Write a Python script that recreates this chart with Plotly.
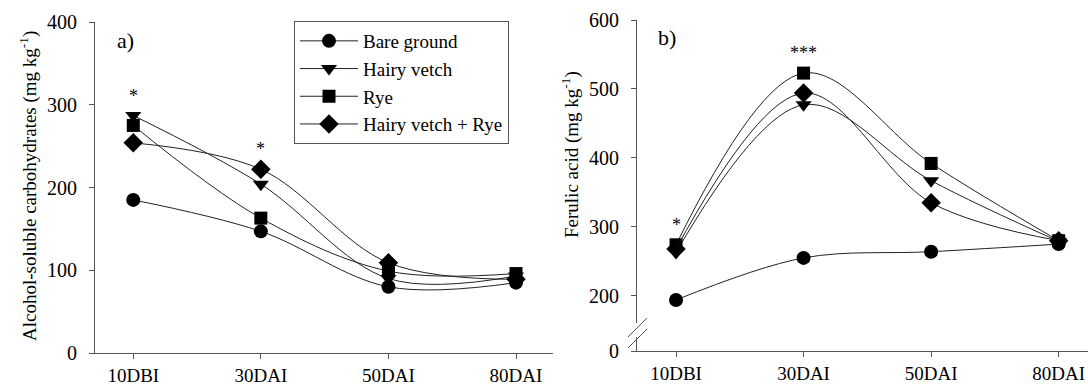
import plotly.graph_objects as go

categories = ["10DBI", "30DAI", "50DAI", "80DAI"]
series_names = ["Bare ground", "Hairy vetch", "Rye", "Hairy vetch + Rye"]
symbols = ["circle", "triangle-down", "square", "diamond"]
sizes = [14, 14, 13, 15]

# panel a) alcohol-soluble carbohydrates (mg/kg)
carb_bare = [185, 147, 80, 85]
carb_hv = [287, 204, 90, 93]
carb_rye = [275, 163, 99, 96]
carb_hvr = [254, 222, 109, 89]

# panel b) ferulic acid (mg/kg)
fer_bare = [194, 255, 264, 275]
fer_hv = [263, 477, 367, 279]
fer_rye = [274, 523, 392, 280]
fer_hvr = [268, 494, 335, 280]

carb_sig = ["*", "*", "", ""]
fer_sig = ["*", "***", "", ""]

FONT = "Times New Roman, Liberation Serif, serif"
AX = "#555555"

fig = go.Figure()
idx = list(range(len(categories)))
for name, sym, sz, ys in zip(series_names, symbols, sizes, [carb_bare, carb_hv, carb_rye, carb_hvr]):
    fig.add_trace(go.Scatter(x=idx, y=ys, name=name, mode="lines+markers",
                             line=dict(color="#222222", width=1, shape="spline", smoothing=1.0),
                             marker=dict(symbol=sym, size=sz, color="black"),
                             xaxis="x", yaxis="y", showlegend=True))
for name, sym, sz, ys in zip(series_names, symbols, sizes, [fer_bare, fer_hv, fer_rye, fer_hvr]):
    fig.add_trace(go.Scatter(x=idx, y=ys, name=name, mode="lines+markers",
                             line=dict(color="#222222", width=1, shape="spline", smoothing=1.0),
                             marker=dict(symbol=sym, size=sz, color="black"),
                             xaxis="x2", yaxis="y2", showlegend=False))

W, H = 1088, 387
common_x = dict(tickmode="array", tickvals=idx, ticktext=categories, showline=True, linecolor=AX,
                linewidth=1, ticks="outside", ticklen=5, tickcolor=AX, showgrid=False, zeroline=False,
                tickfont=dict(family=FONT, size=19, color="black"), ticklabelstandoff=0)
fig.update_layout(
    width=W, height=H, margin=dict(l=0, r=0, t=0, b=0, autoexpand=False),
    paper_bgcolor="white", plot_bgcolor="white",
    font=dict(family=FONT, size=20, color="black"),
    xaxis=dict(domain=[95 / W, 553 / W], range=[-0.3, 3.29], anchor="y", **common_x),
    xaxis2=dict(domain=[637 / W, 1.0], range=[-0.306, 3.23], anchor="y2", **common_x),
    yaxis=dict(domain=[(H - 353) / H, (H - 22) / H], range=[0, 400], tickvals=[0, 100, 200, 300, 400],
               showline=True, linecolor=AX, linewidth=1, ticks="outside", ticklen=5, tickcolor=AX,
               showgrid=False, zeroline=False, anchor="x",
               tickfont=dict(family=FONT, size=20, color="black"), ticklabelstandoff=8),
    yaxis2=dict(domain=[(H - 351) / H, (H - 20) / H], range=[120, 600],
                tickvals=[120, 200, 300, 400, 500, 600], ticktext=["0", "200", "300", "400", "500", "600"],
                showline=True, linecolor=AX, linewidth=1, ticks="outside", ticklen=5, tickcolor=AX,
                showgrid=False, zeroline=False, anchor="x2",
                tickfont=dict(family=FONT, size=20, color="black"), ticklabelstandoff=8),
    legend=dict(x=294 / W, y=1 - 21 / H, xanchor="left", yanchor="top",
                bordercolor=AX, borderwidth=1, bgcolor="white",
                font=dict(family=FONT, size=19, color="black"), itemwidth=58,
                tracegroupgap=0),
    showlegend=True,
)

ann = []
ann.append(dict(text="a)", x=125 / W, y=1 - 40 / H, xref="paper", yref="paper", showarrow=False,
                xanchor="center", yanchor="middle", font=dict(family=FONT, size=22)))
ann.append(dict(text="b)", x=667 / W, y=1 - 37 / H, xref="paper", yref="paper", showarrow=False,
                xanchor="center", yanchor="middle", font=dict(family=FONT, size=22)))
ann.append(dict(text="Alcohol-soluble carbohydrates (mg kg<sup>-1</sup>)", x=28 / W, y=1 - 186 / H,
                xref="paper", yref="paper", textangle=-90, showarrow=False,
                xanchor="center", yanchor="middle", font=dict(family=FONT, size=19)))
ann.append(dict(text="Ferulic acid (mg kg<sup>-1</sup>)", x=570 / W, y=1 - 155 / H,
                xref="paper", yref="paper", textangle=-90, showarrow=False,
                xanchor="center", yanchor="middle", font=dict(family=FONT, size=19)))
for i, s in enumerate(carb_sig):
    if s:
        top = max(carb_bare[i], carb_hv[i], carb_rye[i], carb_hvr[i])
        ann.append(dict(text=s, x=i, y=top, xref="x", yref="y", showarrow=False, yshift=20,
                        font=dict(family=FONT, size=18)))
for i, s in enumerate(fer_sig):
    if s:
        top = max(fer_bare[i], fer_hv[i], fer_rye[i], fer_hvr[i])
        ann.append(dict(text=s, x=i, y=top, xref="x2", yref="y2", showarrow=False, yshift=20,
                        font=dict(family=FONT, size=18)))
fig.update_layout(annotations=ann)

# axis break on panel b
shapes = [
    dict(type="rect", xref="paper", yref="paper", x0=633 / W, x1=641 / W, y0=1 - 337 / H, y1=1 - 323 / H,
         fillcolor="white", line=dict(width=0), layer="above"),
    dict(type="line", xref="paper", yref="paper", x0=628 / W, x1=647 / W, y0=1 - 337 / H, y1=1 - 318 / H,
         line=dict(color=AX, width=1), layer="above"),
    dict(type="line", xref="paper", yref="paper", x0=628 / W, x1=647 / W, y0=1 - 348 / H, y1=1 - 329 / H,
         line=dict(color=AX, width=1), layer="above"),
]
fig.update_layout(shapes=shapes)

fig.write_html("out.html")
